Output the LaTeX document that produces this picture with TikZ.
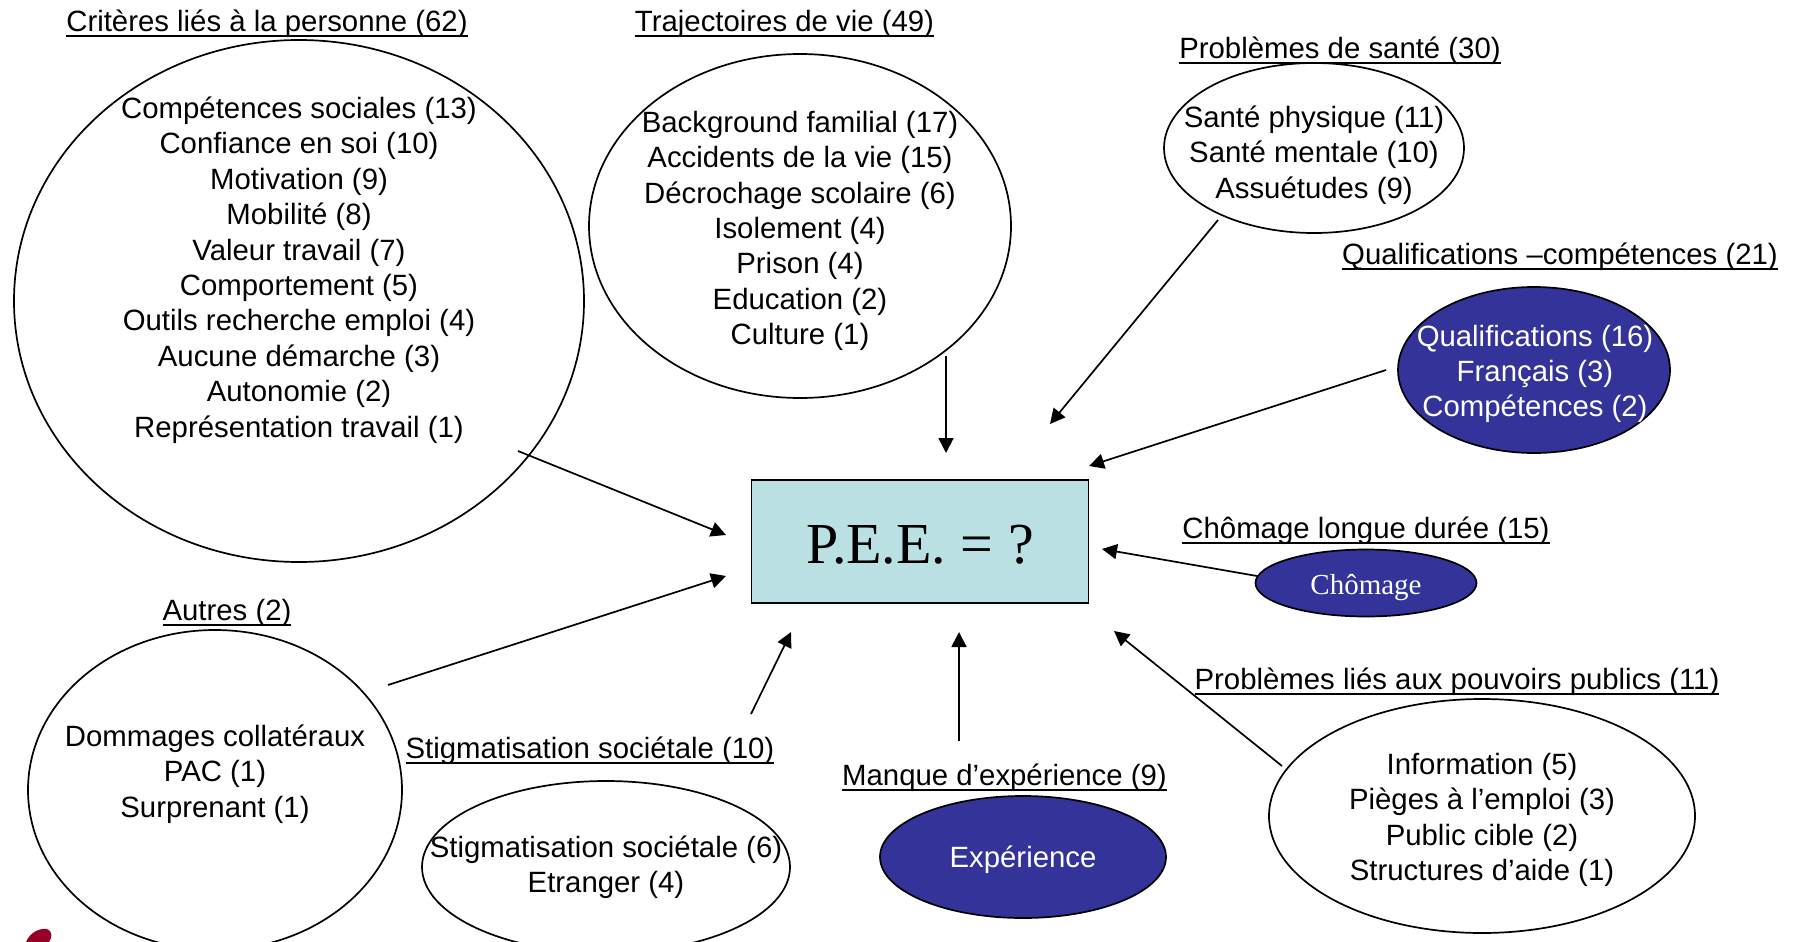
\documentclass[tikz,border=0pt]{standalone}
\usepackage{fontspec}
\setmainfont{Liberation Sans}
\newfontfamily\serifface{Liberation Serif}
\usetikzlibrary{shapes.geometric,arrows.meta}
\definecolor{deepblue}{RGB}{51,51,153}
\definecolor{paleblue}{RGB}{186,224,228}
\definecolor{logored}{RGB}{153,0,40}
\newsavebox{\ulinebox}
\newcommand{\ulined}[1]{\sbox{\ulinebox}{#1}\rlap{\rule[-5.5pt]{\wd\ulinebox}{2pt}}\usebox{\ulinebox}}
\tikzset{
  bubble/.style={ellipse,draw=black,line width=1.7pt,inner sep=0pt},
  darkbubble/.style={bubble,fill=deepblue},
  bubblesize/.style 2 args={minimum width=#1pt,minimum height=#2pt},
  body/.style={align=center,inner sep=0pt,font=\fontsize{29.35}{35.4}\selectfont},
  bodywhite/.style={body,text=white},
  heading/.style={inner sep=0pt,anchor=base,font=\fontsize{29.35}{35.4}\selectfont},
  link/.style={draw=black,line width=1.7pt,-{Triangle[length=15pt,width=15pt]}},
}
\begin{document}
\begin{tikzpicture}[x=1pt,y=-1pt]
\useasboundingbox (0,0) rectangle (1796,942);
% logo fragment
\fill[logored] (26,942) .. controls (30,932) and (40,928) .. (47,929) .. controls (53,931) and (52,938) .. (49,942) -- cycle;
% bubbles
\node[bubble,bubblesize={570}{522}] (personne) at (299,301) {};
\node[bubble,bubblesize={422}{344}] (trajectoires) at (800,226) {};
\node[bubble,bubblesize={300}{170}] (sante) at (1314,148) {};
\node[darkbubble,bubblesize={272}{166}] (qualif) at (1534,370) {};
\node[darkbubble,bubblesize={221}{67}] (chomage) at (1366,583) {};
\node[bubble,bubblesize={426}{234}] (pouvoirs) at (1482,816) {};
\node[darkbubble,bubblesize={286}{122}] (experience) at (1023,857) {};
\node[bubble,bubblesize={368}{172}] (stigma) at (606,867) {};
\node[bubble,bubblesize={374}{320}] (autres) at (215,790) {};
\node[draw=black,line width=1.7pt,fill=paleblue,minimum width=337pt,minimum height=123pt,inner sep=0pt,text height=44.5pt,text depth=0pt,font=\serifface\fontsize{58}{60}\selectfont] (pee) at (920,541.5) {P.E.E. = ?};
% headings
\node[heading] (h1) at (267,31.5) {\ulined{Critères liés à la personne (62)}};
\node[heading] (h2) at (784.5,31.5) {\ulined{Trajectoires de vie (49)}};
\node[heading] (h3) at (1340,58.5) {\ulined{Problèmes de santé (30)}};
\node[heading] (h4) at (1560,264) {\ulined{Qualifications –compétences (21)}};
\node[heading] (h5) at (1366,538.5) {\ulined{Chômage longue durée (15)}};
\node[heading] (h6) at (1457,689) {\ulined{Problèmes liés aux pouvoirs publics (11)}};
\node[heading] (h7) at (1004.5,785) {\ulined{Manque d’expérience (9)}};
\node[heading] (h8) at (590,758) {\ulined{Stigmatisation sociétale (10)}};
\node[heading] (h9) at (227,620) {\ulined{Autres (2)}};
% contents
\node[body] (t1) at (299,270) {Compétences sociales (13)\\Confiance en soi (10)\\Motivation (9)\\Mobilité (8)\\Valeur travail (7)\\Comportement (5)\\Outils recherche emploi (4)\\Aucune démarche (3)\\Autonomie (2)\\Représentation travail (1)};
\node[body] (t2) at (800,231) {Background familial (17)\\Accidents de la vie (15)\\Décrochage scolaire (6)\\Isolement (4)\\Prison (4)\\Education (2)\\Culture (1)};
\node[body] (t3) at (1314,155) {Santé physique (11)\\Santé mentale (10)\\Assuétudes (9)};
\node[bodywhite] (t4) at (1535,374) {Qualifications (16)\\Français (3)\\Compétences (2)};
\node[text=white,inner sep=0pt,font=\serifface\fontsize{29}{34}\selectfont] (t5) at (1366,588) {Chômage};
\node[body] (t6) at (1482,820) {Information (5)\\Pièges à l’emploi (3)\\Public cible (2)\\Structures d’aide (1)};
\node[bodywhite] (t7) at (1023,860) {Expérience};
\node[body] (t8) at (606,867) {Stigmatisation sociétale (6)\\Etranger (4)};
\node[body] (t9) at (215,774) {Dommages collatéraux\\PAC (1)\\Surprenant (1)};
% arrow ends
\coordinate (s1) at (518,451); \coordinate (e1) at (726,535);
\coordinate (s2) at (946,356); \coordinate (e2) at (946,453);
\coordinate (s3) at (1218,220); \coordinate (e3) at (1050,424);
\coordinate (s4) at (1386,370); \coordinate (e4) at (1089,466);
\coordinate (s5) at (1257,576); \coordinate (e5) at (1102,549);
\coordinate (s6) at (1282,766); \coordinate (e6) at (1114,631);
\coordinate (s7) at (959,741); \coordinate (e7) at (959,632);
\coordinate (s8) at (751,714); \coordinate (e8) at (791,632);
\coordinate (s9) at (388,685); \coordinate (e9) at (726,576);
\draw[link] (s1) -- (e1);
\draw[link] (s2) -- (e2);
\draw[link] (s3) -- (e3);
\draw[link] (s4) -- (e4);
\draw[link] (s5) -- (e5);
\draw[link] (s6) -- (e6);
\draw[link] (s7) -- (e7);
\draw[link] (s8) -- (e8);
\draw[link] (s9) -- (e9);
\end{tikzpicture}
\end{document}
